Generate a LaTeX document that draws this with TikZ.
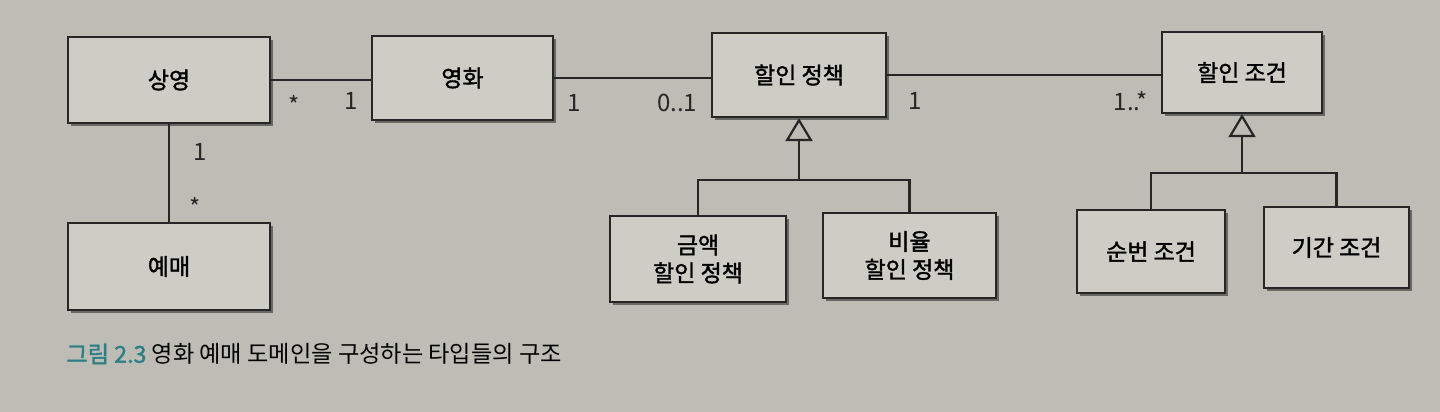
\documentclass[tikz,border=0pt]{standalone}
\usepackage{fontspec}
\setmainfont{Noto Sans CJK KR}[AutoFakeBold=1.6]
\usetikzlibrary{arrows.meta,shadows}
\definecolor{bg}{HTML}{BDBDB5}
\definecolor{boxfill}{HTML}{CDCDC6}
\definecolor{capteal}{HTML}{2E7E86}
\begin{document}
\begin{tikzpicture}[x=0.5pt,y=-0.5pt,
  cls/.style={draw=black!85, line width=1.1pt, fill=boxfill, align=center,
    font=\fontsize{11.5}{14}\selectfont\bfseries, inner sep=0pt,
    drop shadow={shadow xshift=1.3pt, shadow yshift=-1.3pt, opacity=0.45, fill=black}},
  conn/.style={line width=1.1pt, draw=black!85},
  gen/.style={conn, -{Triangle[open, length=11.5pt, width=13.5pt, line width=1.1pt]}},
  mult/.style={font=\fontsize{12}{14}\selectfont, inner sep=0pt, text=black!85},
]
\fill[bg] (0,0) rectangle (1440,412);
\useasboundingbox (0,0) rectangle (1440,412);

% classes
\node[cls, minimum width=101pt, minimum height=43pt]   (sy) at (169,80)    {상영};
\node[cls, minimum width=101pt, minimum height=43.5pt] (ym) at (169,266.5) {예매};
\node[cls, minimum width=90.5pt, minimum height=42pt]  (yh) at (462.5,78)  {영화};
\node[cls, minimum width=87pt,  minimum height=42pt]   (hp) at (799,75)    {할인 정책};
\node[cls, minimum width=80pt,  minimum height=40.5pt] (hc) at (1242,72.5) {할인 조건};
\node[cls, minimum width=88pt,  minimum height=43pt]   (gm) at (698,259)   {금액\\할인 정책};
\node[cls, minimum width=86.5pt,minimum height=42.5pt] (bu) at (909.5,255.5) {비율\\할인 정책};
\node[cls, minimum width=74pt,  minimum height=41.5pt] (sb) at (1151,251.5) {순번 조건};
\node[cls, minimum width=72.5pt,minimum height=40.5pt] (gg) at (1336.5,247.5) {기간 조건};

% associations
\draw[conn] (sy.east) -- (sy.east -| yh.west);
\draw[conn] (yh.east) -- (yh.east -| hp.west);
\draw[conn] (hp.east) -- (hp.east -| hc.west);
\draw[conn] (sy.south) -- (ym.north);

% generalizations
\coordinate (j1) at (799,180);
\coordinate (j2) at (1242,173);
\draw[conn] (gm.north) |- (j1) -| (bu.north);
\draw[gen] (j1) -- (hp.south);
\draw[conn] (sb.north) |- (j2) -| (gg.north);
\draw[gen] (j2) -- (hc.south);

% multiplicities
\node[mult] (m1) at (294,105) {*};
\node[mult] (m2) at (351,101) {1};
\node[mult] (m3) at (200,152) {1};
\node[mult] (m4) at (195,207) {*};
\node[mult] (m5) at (574,103) {1};
\node[mult] (m6) at (677,103) {0..1};
\node[mult] (m7) at (915,101) {1};
\node[mult] (m8) at (1131,101) {1..*};

% caption
\node[anchor=west, inner sep=0pt, font=\fontsize{11.6}{14}\selectfont] (cap) at (66,354)
  {{\color{capteal}\bfseries 그림 2.3} 영화 예매 도메인을 구성하는 타입들의 구조};
\end{tikzpicture}
\end{document}
